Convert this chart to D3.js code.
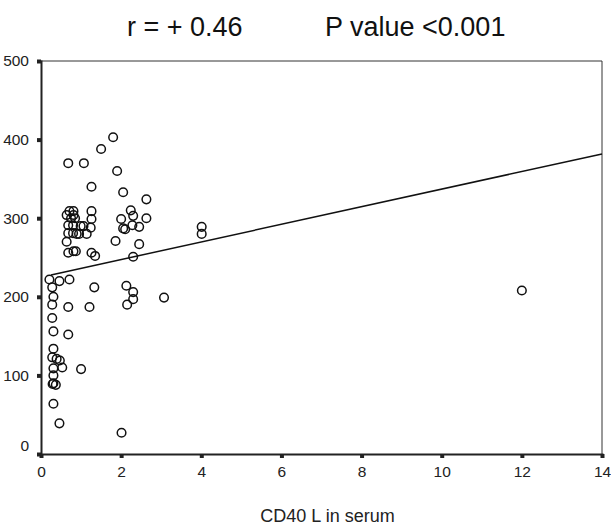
<!DOCTYPE html>
<html>
<head>
<meta charset="utf-8">
<script src="https://cdn.jsdelivr.net/npm/d3@7"></script>
<style>
  body { margin: 0; background: #fff; }
  svg { font-family: "Liberation Sans", Arial, sans-serif; }
</style>
</head>
<body>
<div id="chart"></div>
<script>
// CD40 L in serum (x) vs measured value (y)
var cd40 = [0.21, 0.46, 0.71, 0.28, 0.31, 0.28, 0.28, 0.31, 0.31, 0.28,
    0.39, 0.47, 0.53, 0.31, 0.31, 0.31, 0.37, 0.29, 0.31, 0.46,
    0.68, 0.68, 1.00, 0.68, 1.07, 1.50, 1.80, 1.90, 1.26, 2.05,
    2.63, 0.71, 0.81, 1.26, 0.64, 0.81, 0.75, 0.85, 1.26, 0.68,
    0.80, 0.99, 1.06, 1.24, 0.68, 0.80, 0.89, 0.95, 1.14, 0.64,
    0.68, 0.81, 0.87, 1.26, 1.35, 2.24, 2.30, 2.63, 2.00, 2.28,
    2.45, 2.05, 2.10, 1.86, 2.45, 2.30, 1.33, 2.13, 2.30, 2.30,
    2.15, 1.21, 3.07, 4.01, 4.01, 12.0, 2.01];
var values = [222, 220, 222, 212, 200, 190, 173, 156, 134, 123,
    121, 119, 110, 109, 100, 90, 88, 89, 64, 39,
    187, 152, 108, 370, 370, 388, 403, 360, 340, 333,
    324, 309, 309, 309, 304, 304, 300, 300, 299, 291,
    291, 290, 290, 288, 281, 281, 280, 280, 280, 270,
    256, 258, 258, 256, 252, 310, 303, 300, 299, 291,
    289, 287, 286, 271, 267, 251, 212, 214, 206, 197,
    190, 187, 199, 289, 280, 208, 27];

var xTicks = [0, 2, 4, 6, 8, 10, 12, 14];
var yTicks = [0, 100, 200, 300, 400, 500];

// fit line: intercept, slope
var fit = [225, 11.2];
var fitRange = [0.25, 14];

var width = 611,
    height = 531,
    margin = {top: 61, right: 9, bottom: 77, left: 41};

var chartWidth = width - margin.left - margin.right,
    chartHeight = height - margin.top - margin.bottom;

var svg = d3.select("#chart").append("svg")
    .attr("width", width)
    .attr("height", height);

var xScale = d3.scaleLinear().domain([0, 14]).range([0, chartWidth]);
var yScale = d3.scaleLinear().domain([0, 500]).range([chartHeight, 0]);

svg.append("text")
    .attr("x", 127)
    .attr("y", 36)
    .style("font-size", "27px")
    .style("fill", "#111")
    .text("r = + 0.46");

svg.append("text")
    .attr("x", 325)
    .attr("y", 36)
    .style("font-size", "27px")
    .style("fill", "#111")
    .text("P value <0.001");

var g = svg.append("g")
    .attr("transform", "translate(" + margin.left + "," + margin.top + ")");

// thin frame on top and right
g.append("line")
    .attr("x1", 0).attr("x2", chartWidth)
    .attr("y1", 0).attr("y2", 0)
    .style("stroke", "#333").style("stroke-width", "1px");
g.append("line")
    .attr("x1", chartWidth).attr("x2", chartWidth)
    .attr("y1", 0).attr("y2", chartHeight)
    .style("stroke", "#333").style("stroke-width", "1px");

var xAxisG = g.append("g")
    .attr("transform", "translate(0," + chartHeight + ")")
    .call(d3.axisBottom(xScale).tickValues(xTicks).tickSize(4).tickPadding(8).tickFormat(d3.format("d")));

var yAxisG = g.append("g")
    .call(d3.axisLeft(yScale).tickValues(yTicks).tickSize(4).tickPadding(8).tickFormat(d3.format("d")));

[xAxisG, yAxisG].forEach(function(a){
    a.select(".domain").style("stroke", "#222").style("stroke-width", "2px");
    a.selectAll(".tick line").style("stroke", "#222").style("stroke-width", "4px");
    a.selectAll(".tick text")
        .style("font-size", "15.5px")
        .style("fill", "#222")
        .style("font-family", "'Liberation Sans', Arial, sans-serif");
});
yAxisG.selectAll(".tick text")
    .filter(function(d){ return d === 0; })
    .attr("dy", "-0.2em");

g.append("line")
    .attr("x1", xScale(fitRange[0]))
    .attr("x2", xScale(fitRange[1]))
    .attr("y1", yScale(fit[0] + fit[1] * fitRange[0]))
    .attr("y2", yScale(fit[0] + fit[1] * fitRange[1]))
    .style("stroke", "#111")
    .style("stroke-width", "1.5px");

g.selectAll("circle.pt")
    .data(d3.range(cd40.length))
    .enter()
    .append("circle")
    .attr("class", "pt")
    .attr("cx", function(i){ return xScale(cd40[i]); })
    .attr("cy", function(i){ return yScale(values[i]); })
    .attr("r", 4.3)
    .style("fill", "none")
    .style("stroke", "#111")
    .style("stroke-width", "1.5px");

svg.append("text")
    .attr("x", margin.left + chartWidth / 2 + 6)
    .attr("y", 522)
    .attr("text-anchor", "middle")
    .style("font-size", "18px")
    .style("fill", "#222")
    .text("CD40 L in serum");
</script>
</body>
</html>
